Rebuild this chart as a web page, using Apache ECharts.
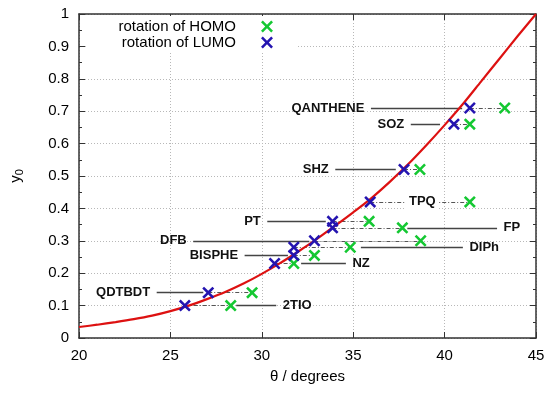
<!DOCTYPE html>
<html>
<head>
<meta charset="utf-8">
<script src="https://cdn.jsdelivr.net/npm/echarts@6/dist/echarts.min.js"></script>
<style>
html,body{margin:0;padding:0;background:#fff;}
#chart{width:550px;height:394px;}
</style>
</head>
<body>
<div id="chart"></div>
<script>
// ---- data ----
const molecules = ['QANTHENE','SOZ','SHZ','TPQ','PT','FP','DFB','DIPh','BISPHE','NZ','QDTBDT','2TIO'];
const homoTheta = [43.29,41.38,38.65,41.38,35.87,37.69,38.69,34.84,32.88,31.75,29.47,28.30];
const lumoTheta = [41.38,40.51,37.78,35.93,33.87,33.87,32.88,31.75,31.75,30.70,27.07,25.79];
const y0Values  = [0.71,0.66,0.52,0.42,0.36,0.34,0.30,0.28,0.255,0.23,0.14,0.10];

const curveTheta = [20,21,22,23,24,25,26,27,28,29,30,31,32,33,34,35,36,37,38,39,40,41,42,43,44,45];
const curveY0    = [0.034,0.041,0.049,0.058,0.069,0.083,0.100,0.120,0.142,0.168,0.198,0.231,0.267,0.305,0.346,0.388,0.432,0.482,0.536,0.595,0.657,0.722,0.792,0.862,0.932,1.0];

const xTicks = [20,25,30,35,40,45];
const yTicks = [0,0.1,0.2,0.3,0.4,0.5,0.6,0.7,0.8,0.9,1];

// ---- annotation layout (leader lines and label placement, in axis units) ----
const annotations = [
  {side:'left',  from:35.97, to:40.96},
  {side:'left',  from:38.15, to:39.75},
  {side:'left',  from:34.02, to:37.33},
  {side:'center',at:38.78},
  {side:'left',  from:30.30, to:33.50},
  {side:'right', from:37.96, to:42.87},
  {side:'left',  from:26.25, to:32.60},
  {side:'right', from:35.42, to:41.00},
  {side:'left',  from:29.06, to:31.43},
  {side:'right', from:32.15, to:34.60},
  {side:'left',  from:24.25, to:26.80},
  {side:'right', from:28.60, to:30.79}
];

const GREEN = '#14c832';
const BLUE = '#2414b0';
const XSYM = 'path://M0,1.5 L1.5,0 L5,3.5 L8.5,0 L10,1.5 L6.5,5 L10,8.5 L8.5,10 L5,6.5 L1.5,10 L0,8.5 L3.5,5 Z';
const FONT = '"Liberation Sans", Arial, sans-serif';

const connectorData = molecules.map((m,i)=>({coords:[[lumoTheta[i],y0Values[i]],[homoTheta[i],y0Values[i]]]}));
const leaderData = [];
const labelData = [];
annotations.forEach((a,i)=>{
  const y = y0Values[i];
  if (a.side === 'center') {
    labelData.push({value:[a.at,y], name:molecules[i], label:{position:'inside', backgroundColor:'#fff', padding:[1,3]}});
  } else {
    leaderData.push({coords:[[a.from,y],[a.to,y]]});
    if (a.side === 'left') {
      labelData.push({value:[a.from,y], name:molecules[i], label:{position:'left', distance:6}});
    } else {
      labelData.push({value:[a.to,y], name:molecules[i], label:{position:'right', distance:6}});
    }
  }
});

const chart = echarts.init(document.getElementById('chart'), null, {renderer:'canvas'});

const option = {
  animation: false,
  backgroundColor: '#fff',
  textStyle: {fontFamily: FONT},
  grid: {left:77, right:14, top:14, bottom:56, show:false},
  legend: [
    {
      data:['rotation of HOMO'], orient:'vertical', right:253, top:16, align:'right',
      padding:[3,24,1,32], backgroundColor:'#fff', itemWidth:12, itemHeight:12,
      textStyle:{fontSize:15, color:'#000', fontFamily:FONT, padding:[0,20,0,0]},
      selectedMode:false
    },
    {
      data:['rotation of LUMO'], orient:'vertical', right:253, top:34, align:'right',
      padding:[1,24,2,35], backgroundColor:'#fff', itemWidth:12, itemHeight:12,
      textStyle:{fontSize:15, color:'#000', fontFamily:FONT, padding:[0,20,0,0]},
      selectedMode:false
    }
  ],
  xAxis: [
    {
      type:'value', position:'bottom', min:20, max:45, interval:5,
      name:'θ / degrees', nameLocation:'middle', nameGap:31,
      nameTextStyle:{fontSize:15, color:'#000', fontFamily:FONT},
      axisLine:{show:true, onZero:false, lineStyle:{color:'#333', width:1.5}},
      axisTick:{show:true, inside:true, length:6, lineStyle:{color:'#333'}},
      axisLabel:{fontSize:15, color:'#000', margin:10, fontFamily:FONT},
      splitLine:{show:true, lineStyle:{color:'#b8b8b8', type:[1,2], width:1}}
    },
    {
      type:'value', position:'top', min:20, max:45, interval:5,
      axisLine:{show:true, onZero:false, lineStyle:{color:'#333', width:1.5}},
      axisTick:{show:true, inside:true, length:6, lineStyle:{color:'#333'}},
      axisLabel:{show:false}, splitLine:{show:false}
    }
  ],
  yAxis: [
    {
      type:'value', position:'left', min:0, max:1, interval:0.1,
      name:'y{s|0}', nameLocation:'middle', nameGap:54, nameRotate:90,
      nameTextStyle:{fontSize:15, color:'#000', fontFamily:FONT,
        rich:{s:{fontSize:11, color:'#000', fontFamily:FONT, padding:[8,0,0,0]}}},
      axisLine:{show:true, onZero:false, lineStyle:{color:'#333', width:1.5}},
      axisTick:{show:true, inside:true, length:6, lineStyle:{color:'#333'}},
      minorTick:{show:true, splitNumber:2, length:3, lineStyle:{color:'#333'}},
      axisLabel:{fontSize:15, color:'#000', margin:10, fontFamily:FONT},
      splitLine:{show:true, lineStyle:{color:'#b8b8b8', type:[1,2], width:1}}
    },
    {
      type:'value', position:'right', min:0, max:1, interval:0.1,
      axisLine:{show:true, onZero:false, lineStyle:{color:'#333', width:1.5}},
      axisTick:{show:true, inside:true, length:6, lineStyle:{color:'#333'}},
      minorTick:{show:true, splitNumber:2, length:3, lineStyle:{color:'#333'}},
      axisLabel:{show:false}, splitLine:{show:false}
    }
  ],
  series: [
    {
      name:'connectors', type:'lines', coordinateSystem:'cartesian2d', xAxisIndex:0, yAxisIndex:0,
      silent:true, z:2, data:connectorData,
      lineStyle:{color:'#555', width:1, type:[4,2,1,2], opacity:1, curveness:0}
    },
    {
      name:'leaders', type:'lines', coordinateSystem:'cartesian2d', xAxisIndex:0, yAxisIndex:0,
      silent:true, z:2, data:leaderData,
      lineStyle:{color:'#444', width:1.3, type:'solid', opacity:1, curveness:0}
    },
    {
      name:'fit', type:'line', xAxisIndex:0, yAxisIndex:0, z:3,
      data: curveTheta.map((t,i)=>[t,curveY0[i]]),
      smooth:0.3, showSymbol:false, symbol:'none',
      lineStyle:{color:'#dd1111', width:2.2}
    },
    {
      name:'rotation of HOMO', type:'scatter', xAxisIndex:0, yAxisIndex:0, z:4,
      symbol:XSYM, symbolSize:12, itemStyle:{color:GREEN, opacity:1},
      data: homoTheta.map((t,i)=>[t,y0Values[i]])
    },
    {
      name:'rotation of LUMO', type:'scatter', xAxisIndex:0, yAxisIndex:0, z:5,
      symbol:XSYM, symbolSize:12, itemStyle:{color:BLUE, opacity:1},
      data: lumoTheta.map((t,i)=>[t,y0Values[i]])
    },
    {
      name:'labels', type:'scatter', xAxisIndex:0, yAxisIndex:0, z:6, silent:true,
      symbol:'circle', symbolSize:1, itemStyle:{color:'rgba(0,0,0,0)', opacity:1},
      label:{show:true, formatter:p=>p.name, fontSize:13, fontWeight:'bold', color:'#111', fontFamily:FONT},
      data: labelData
    }
  ]
};
chart.setOption(option);
</script>
</body>
</html>
